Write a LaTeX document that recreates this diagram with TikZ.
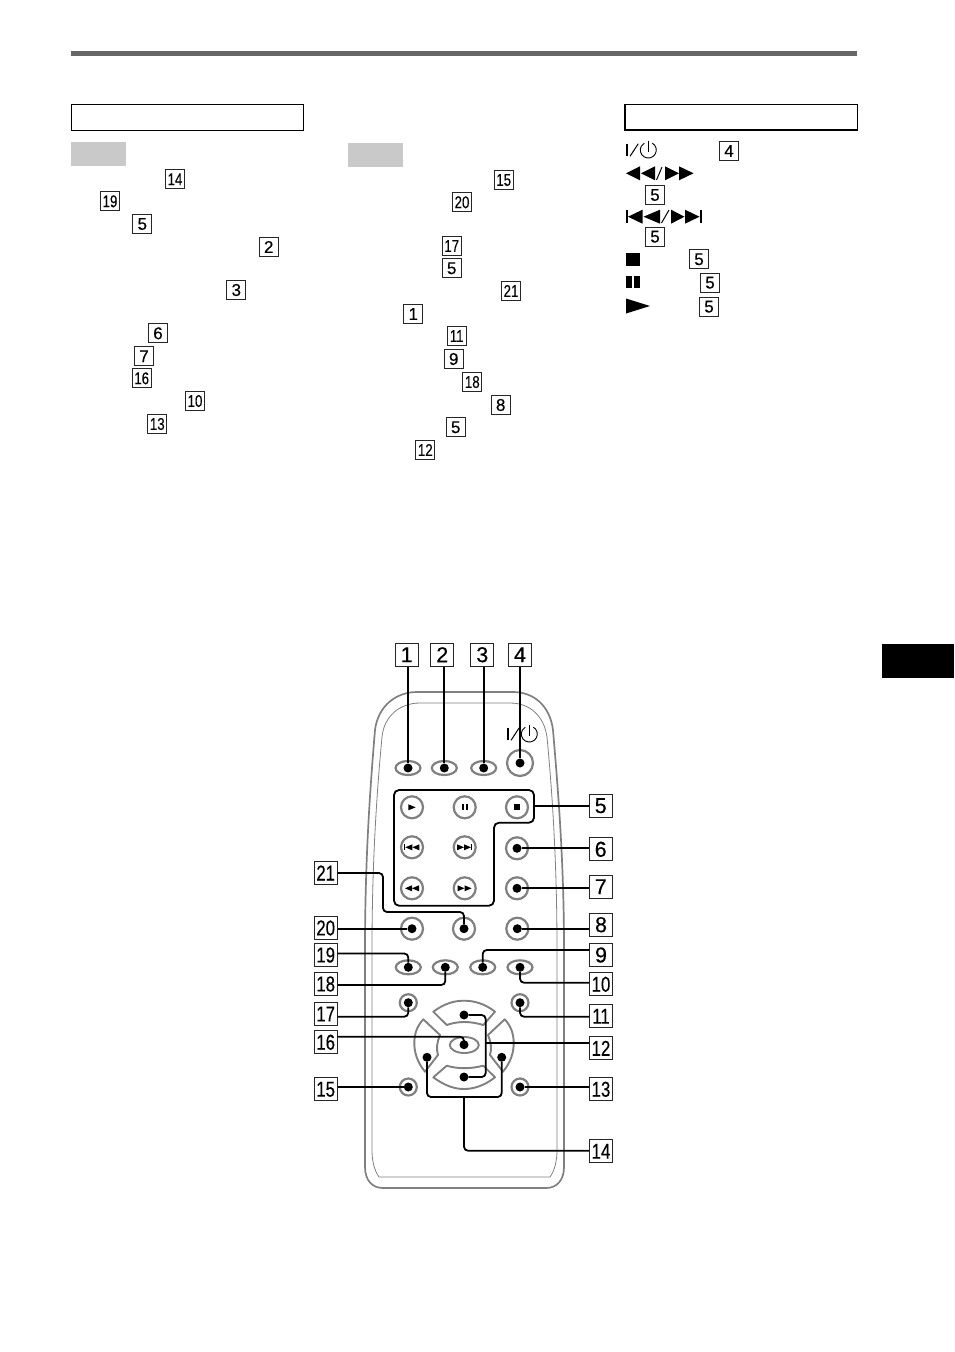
\documentclass[tikz,border=0pt]{standalone}
\usepackage{fontspec}
\newfontfamily\numfont[BoldFont=Liberation Sans,BoldFeatures={FakeBold=0.35}]{Liberation Sans}
\usetikzlibrary{calc,shapes.geometric}
\newcommand{\nn}[1]{\scalebox{.78}[1]{#1}}
\newcommand{\tri}[4]{\fill (#1,#3-#4) -- (#2,#3) -- (#1,#3+#4) -- cycle;}
\tikzset{
  numbox/.style={draw=black!85,line width=0.9pt,fill=white,inner sep=0pt,minimum width=19pt,minimum height=19pt,font=\numfont\bfseries\fontsize{17}{17}\selectfont},
  bignum/.style={draw=black!85,line width=0.9pt,fill=white,inner sep=0pt,minimum width=23pt,minimum height=23pt,font=\numfont\bfseries\fontsize{21.5}{21.5}\selectfont},
  roundbtn/.style={circle,draw=black!50,line width=2.2pt,fill=white,inner sep=0pt,minimum size=22pt},
  smallbtn/.style={circle,draw=black!50,line width=2.2pt,fill=white,inner sep=0pt,minimum size=17pt},
  ovalbtn/.style={ellipse,draw=black!50,line width=2.2pt,fill=white,inner sep=0pt,minimum width=25pt,minimum height=14pt},
  powerbtn/.style={circle,draw=black!50,line width=2.2pt,fill=white,inner sep=0pt,minimum size=26pt},
  dot/.style={circle,fill=black,inner sep=0pt,minimum size=9pt},
  leader/.style={line width=1.8pt,rounded corners=4pt},
  padkey/.style={draw=black!50,line width=1.9pt,fill=white,line join=round},
  powersym/.pic={
    \draw[line width=2.4pt] (2.2,-6.3) -- (2.2,6.3);
    \draw[line width=1pt] (5,6.3) -- (13.3,-6.3);
    \draw[line width=0.9pt] (27.3,-6.9) arc[start angle=-60,end angle=240,radius=8];
    \draw[line width=0.9pt] (23.3,-9.5) -- (23.3,2);
  }
}

\begin{document}
\begin{tikzpicture}[x=1pt,y=-1pt]
\useasboundingbox (0,0) rectangle (954,1352);

\fill[black!60] (71,51) rectangle (857,56);
\draw[line width=1pt] (71.5,104.5) rectangle (303,130);
\draw[line width=1.4pt] (625,104.5) rectangle (857.5,130);
\fill[black!21] (71,142) rectangle (126,166);
\fill[black!21] (348,143) rectangle (403,167);
\fill[black] (882,644) rectangle (954,678);

\foreach \lab/\x/\y [count=\i] in {\nn{14}/175/179.3,\nn{19}/110/201.3,5/142.3/224,2/268.7/247,3/236.3/290,6/158/333.3,7/144/356.3,\nn{16}/141.7/378.3,\nn{10}/195/401,\nn{13}/157.3/424,\nn{15}/503.7/180,\nn{20}/462/202.3,\nn{17}/451.7/246,5/451.7/268.3,\nn{21}/511/291,1/413.3/314,\nn{11}/456.7/336,9/453.7/359,\nn{18}/472.3/382,8/500.7/405,5/455.7/427.3,\nn{12}/425.3/450,4/729/151,5/655/195,5/655/236.7,5/699/259.3,5/710/282.7,5/709/306.7}
  \node[numbox] (t\i) at (\x,\y) {\lab};

\pic at (625,150) {powersym};
\tri{640}{626}{173.3}{7}
\tri{655}{641}{173.3}{7}
\draw[line width=1pt] (656.5,180) -- (662,167);
\tri{665}{679}{173.3}{7}
\tri{679}{693.5}{173.3}{7}
\fill (626,210) rectangle (628,223);
\tri{642.5}{628}{216.7}{7}
\tri{660}{643.5}{216.7}{7}
\draw[line width=1pt] (661.5,223) -- (669,210);
\tri{671}{684.5}{216.7}{7}
\tri{685}{699.5}{216.7}{7}
\fill (699.5,210) rectangle (701.5,223);
\fill (626,253.3) rectangle (640,265.7);
\fill (626,276) rectangle (631.7,288.3);
\fill (634.3,276) rectangle (640,288.3);
\tri{626}{650}{306}{7.5}

\draw[black!50,line width=1.7pt] (383,1188) .. controls (372,1188) and (365,1180) .. (365,1167) -- (365,950) .. controls (365,860) and (370,790) .. (375,730) .. controls (378,706) and (396,692) .. (417,692) -- (513,692) .. controls (534,692) and (550,706) .. (553,730) .. controls (558,790) and (564,860) .. (564,950) -- (564,1167) .. controls (564,1180) and (557,1188) .. (546,1188) -- cycle;
\draw[black!50,line width=0.8pt] (379,1177) .. controls (374,1170) and (372,1160) .. (372,1150) -- (372,950) .. controls (372,860) and (377,790) .. (382,737) .. controls (384,716) and (400,703) .. (420,703) -- (510,703) .. controls (530,703) and (544,716) .. (547,737) .. controls (552,790) and (557,860) .. (557,950) -- (557,1150) .. controls (557,1160) and (555,1170) .. (550,1177) -- cycle;

\pic at (506,734) {powersym};

\foreach \nm/\x/\y in {a/408/768,b/444.3/768,c/483.7/768,s/408.3/967.3,r/445.3/967.3,i/482.7/967.3,j/520/967.3}
  \node[ovalbtn] (b\nm) at (\x,\y) {};
\foreach \nm/\x/\y in {play/412/807.3,pause/464.7/807.3,stop/517/807.3,prev/412/847.3,next/464.7/847.3,f/517/848.3,rew/412/888.3,ff/464.7/888.3,g/517/888.3,t/412/928.7,u/464/928.7,h/517.3/928.7}
  \node[roundbtn] (b\nm) at (\x,\y) {};
\foreach \nm/\x/\y in {q/408.3/1002.7,k/520/1002.7,o/408.3/1087,m/520/1087}
  \node[smallbtn] (b\nm) at (\x,\y) {};
\node[powerbtn] (bd) at (520,763) {};

\path[padkey] (433.3,1011.7) .. controls (445,1003) and (455,1000.7) .. (464,1000.7) .. controls (473,1000.7) and (484,1003) .. (495,1011.7) -- (483.3,1025) .. controls (470,1021) and (458,1021) .. (446.7,1025) -- cycle;
\path[padkey] (433.3,1077.3) .. controls (445,1086) and (455,1089) .. (464,1089) .. controls (473,1089) and (484,1086) .. (495,1077.3) -- (483.3,1065.7) .. controls (470,1069) and (458,1069) .. (446.7,1065.7) -- cycle;
\path[padkey] (423.3,1019.3) -- (440,1035) .. controls (437,1042) and (436,1049) .. (438,1055) -- (425,1071.7) .. controls (417,1062) and (414.3,1052) .. (414.3,1043) .. controls (414.3,1034) and (417,1026) .. (423.3,1019.3) -- cycle;
\path[padkey] (504.7,1019.3) -- (488,1035) .. controls (491,1042) and (492,1049) .. (490,1055) -- (503,1071.7) .. controls (511,1062) and (513.7,1052) .. (513.7,1043) .. controls (513.7,1034) and (511,1026) .. (504.7,1019.3) -- cycle;
\node[ellipse,draw=black!50,line width=1.9pt,fill=white,inner sep=0pt,minimum width=29pt,minimum height=16pt] (bcen) at (464.3,1045) {};

\tri{408.3}{415.7}{807.3}{3}
\fill (462,804.3) rectangle (464,810.3);
\fill (465.5,804.3) rectangle (467.5,810.3);
\fill (514,804.3) rectangle (520,810.3);
\fill (404.3,844.3) rectangle (405.3,850.3);
\tri{412.3}{405.3}{847.3}{3}
\tri{419.3}{412.3}{847.3}{3}
\tri{457}{464}{847.3}{3}
\tri{464}{471}{847.3}{3}
\fill (471,844.3) rectangle (472.3,850.3);
\tri{412}{405}{888.3}{3}
\tri{419}{412}{888.3}{3}
\tri{457.5}{464.5}{888.3}{3}
\tri{464.5}{471.5}{888.3}{3}

\foreach \lab/\x/\y [count=\i] in {1/406.7/654.7,2/442.3/654.7,3/482.3/654.7,4/520/654.7,5/600.7/805.7,6/600.7/849.3,7/600.7/886.7,8/601/924.7,9/601/955,\nn{10}/601/984.3,\nn{11}/601/1016.3,\nn{12}/601/1048.3,\nn{13}/601/1089.3,\nn{14}/601/1151.3,\nn{15}/325.7/1089.3,\nn{16}/325.7/1042.3,\nn{17}/325.7/1014,\nn{18}/325.7/984,\nn{19}/325.7/955,\nn{20}/325.7/928,\nn{21}/325.7/873}
  \node[bignum] (n\i) at (\x,\y) {\lab};

\foreach \nm/\x/\y in {1/408/768,2/444.3/768,3/483.7/768,4/520/763,6/517/848.3,7/517/888.3,8/517.3/928.7,9/482.7/967.3,10/520/967.3,11/520/1002.7,13/520/1087,15/408.3/1087,16/464/1044.7,17/408.3/1002.7,18/445.3/967.3,19/408.3/967.3,20/412/928.7,21/464/928.7,up/464/1015,dn/464/1077,lf/427/1057.3,rt/501.7/1057.3}
  \node[dot] (d\nm) at (\x,\y) {};

\foreach \i in {1,2,3,4}
  \draw[leader] (n\i.south -| d\i) -- (d\i);
\foreach \i in {6,7,8,13}
  \draw[leader] (d\i) -- (d\i -| n\i.west);
\foreach \i in {15,20}
  \draw[leader] (d\i) -- (d\i -| n\i.east);

\coordinate (wire5) at (534,805.7);
\draw[leader] (wire5) -- (n5.west);
\draw[line width=1.8pt,rounded corners=5pt] (394,790) -- (534,790) -- (534,822.7) -- (494,822.7) -- (494,905.7) -- (394,905.7) -- cycle;

\coordinate (j21a) at (383,873);
\coordinate (j21b) at (383,912);
\draw[leader] (n21.east |- j21a) -- (j21a) -- (j21b) -- (d21 |- j21b) -- (d21);
\draw[leader] (d19) -- (d19 |- 0,953.5) -- (n19.east |- 0,953.5);
\draw[leader] (d18) -- (d18 |- 0,985) -- (n18.east |- 0,985);
\draw[leader] (d17) -- (d17 |- 0,1016.7) -- (n17.east |- 0,1016.7);
\draw[leader] (d16) -- (d16 |- 0,1036.7) -- (n16.east |- 0,1036.7);
\draw[leader] (d9) -- (d9 |- 0,950) -- (n9.west |- 0,950);
\draw[leader] (d10) -- (d10 |- 0,982.7) -- (n10.west |- 0,982.7);
\draw[leader] (d11) -- (d11 |- 0,1016.7) -- (n11.west |- 0,1016.7);

\coordinate (j12) at (485.7,1043.3);
\draw[leader] (dup) -- (j12 |- dup) -- (j12 |- ddn) -- (ddn);
\draw[leader] (j12) -- (j12 -| n12.west);

\coordinate (j14) at (464,1097);
\draw[leader] (dlf) -- (dlf |- j14) -- (drt |- j14) -- (drt);
\draw[leader] (j14) -- (j14 |- 0,1150.7) -- (n14.west |- 0,1150.7);
\end{tikzpicture}
\end{document}
